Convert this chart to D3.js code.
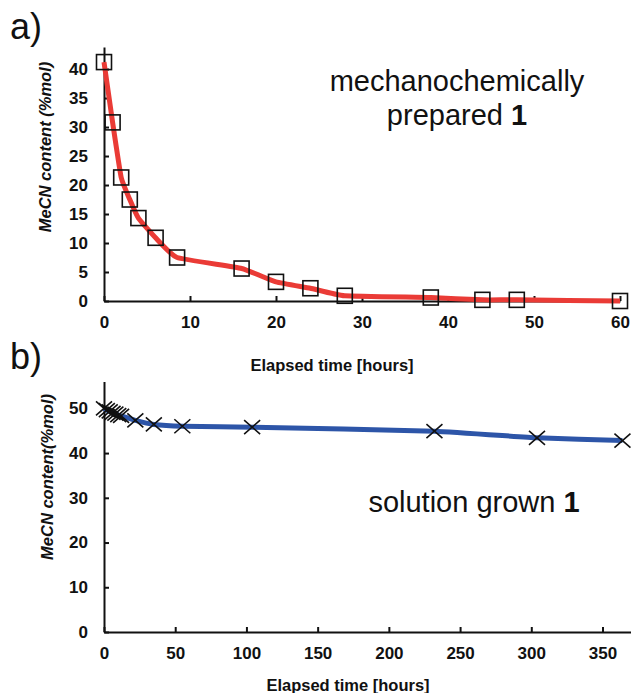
<!DOCTYPE html>
<html lang="en">
<head>
  <meta charset="UTF-8">
  <title>MeCN content</title>
  <style>
    body { margin: 0; background: #fff; }
    svg { display: block; font-family: "Liberation Sans", Arial, sans-serif; }
    .axis path, .axis line { stroke: #111; stroke-width: 2; }
    .axis text { font-size: 17px; font-weight: bold; fill: #111; }
    .ttl { font-size: 16.5px; font-weight: bold; fill: #111; }
    .note { font-size: 29px; fill: #111; }
  </style>
</head>
<body>
  <div id="chart"></div>
  <script src="https://d3js.org/d3.v7.min.js"></script>
  <script>
    // panel a: mechanochemically prepared
    const timeA = [0, 1, 2, 3, 4, 6, 8.5, 16, 20, 24, 28, 38, 44, 48, 60];
    const mecnA = [41.2, 30.8, 21.3, 17.5, 14.3, 10.9, 7.5, 5.6, 3.3, 2.2, 0.9, 0.6, 0.2, 0.2, 0];
    const ticksAx = [0, 10, 20, 30, 40, 50, 60];
    const ticksAy = [0, 5, 10, 15, 20, 25, 30, 35, 40];

    // panel b: solution grown
    const timeB = [0, 2, 4, 6, 8, 10, 12, 22, 35, 55, 104, 232, 304, 364];
    const mecnB = [50, 49.6, 49.3, 49, 48.8, 48.5, 48.3, 47.3, 46.4, 46.0, 45.8, 44.9, 43.4, 42.8];
    const ticksBx = [0, 50, 100, 150, 200, 250, 300, 350];
    const ticksBy = [0, 10, 20, 30, 40, 50];

    const svg = d3.select('#chart').append('svg')
      .attr('width', 631).attr('height', 693);

    function panel(o) {
      const x = d3.scaleLinear().domain(o.xdom).range([104, o.xr]);
      const y = d3.scaleLinear().domain(o.ydom).range([o.y0, o.y1]);
      const g = svg.append('g');

      g.append('g').attr('class', 'axis')
        .attr('transform', `translate(0,${o.y0})`)
        .call(d3.axisBottom(x).tickValues(o.tx).tickSize(-5).tickPadding(15).tickSizeOuter(0));
      g.append('g').attr('class', 'axis')
        .attr('transform', 'translate(104,0)')
        .call(d3.axisLeft(y).tickValues(o.ty).tickSize(-5).tickPadding(16).tickSizeOuter(0));

      const pts = o.xs.map((v, i) => [v, o.ys[i]]);
      g.append('path')
        .datum(pts)
        .attr('fill', 'none')
        .attr('stroke', o.color)
        .attr('stroke-width', 5)
        .attr('stroke-linejoin', 'round')
        .attr('d', d3.line().x(d => x(d[0])).y(d => y(d[1])).curve(d3.curveCardinal.tension(0.6)));

      const m = g.append('g').selectAll('g').data(pts).enter().append('g')
        .attr('transform', d => `translate(${x(d[0])},${y(d[1])})`);
      if (o.marker === 'square') {
        m.append('rect').attr('x', -7.5).attr('y', -7.5).attr('width', 15).attr('height', 15)
          .attr('fill', 'none').attr('stroke', '#111').attr('stroke-width', 1.6);
      } else {
        m.append('path').attr('d', 'M-8,-7L8,7M-8,7L8,-7')
          .attr('fill', 'none').attr('stroke', '#111').attr('stroke-width', 1.6);
      }

      g.append('text').attr('class', 'ttl')
        .attr('x', o.xlx).attr('y', o.xly).attr('text-anchor', 'middle')
        .text('Elapsed time [hours]');
      g.append('text').attr('class', 'ttl')
        .attr('transform', `translate(${o.ylx},${o.yly}) rotate(-90)`)
        .attr('text-anchor', 'middle').style('font-style', 'italic')
        .text(o.ylabel);
      g.append('text').attr('x', 10).attr('y', o.tagy)
        .style('font-size', '36px').attr('fill', '#111').text(o.tag);
      return g;
    }

    const ga = panel({
      xdom: [0, 60], xr: 620, ydom: [0, 43.8], y0: 301, y1: 47,
      tx: ticksAx, ty: ticksAy, xs: timeA, ys: mecnA, color: '#ea3b36', marker: 'square',
      xlx: 332, xly: 371, ylx: 51, yly: 147, ylabel: 'MeCN content (%mol)', tag: 'a)', tagy: 39
    });
    ga.append('text').attr('class', 'note').attr('x', 457).attr('y', 91)
      .attr('text-anchor', 'middle').text('mechanochemically');
    const p2 = ga.append('text').attr('class', 'note').attr('x', 457).attr('y', 125)
      .attr('text-anchor', 'middle');
    p2.append('tspan').text('prepared ');
    p2.append('tspan').style('font-weight', 'bold').text('1');

    const gb = panel({
      xdom: [0, 370], xr: 631, ydom: [0, 56], y0: 632, y1: 381.5,
      tx: ticksBx, ty: ticksBy, xs: timeB, ys: mecnB, color: '#2d55a8', marker: 'cross',
      xlx: 348, xly: 691, ylx: 53, yly: 477, ylabel: 'MeCN content(%mol)', tag: 'b)', tagy: 369
    });
    const p3 = gb.append('text').attr('class', 'note').attr('x', 474).attr('y', 512)
      .attr('text-anchor', 'middle');
    p3.append('tspan').text('solution grown ');
    p3.append('tspan').style('font-weight', 'bold').text('1');
  </script>
</body>
</html>
